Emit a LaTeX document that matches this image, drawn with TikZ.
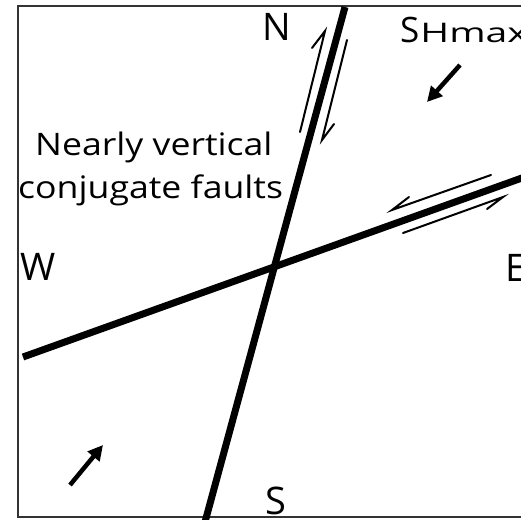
\documentclass[tikz,border=0pt]{standalone}
\usepackage{fontspec}
\setmainfont{Open Sans}
\usetikzlibrary{arrows.meta}
\begin{document}
\begin{tikzpicture}[x=1pt,y=-1pt,
  fault/.style={line width=7pt,line cap=butt},
  sense/.style={line width=2pt,line join=miter,line cap=round},
  stress/.style={line width=4.5pt,-{Triangle[length=15pt,width=15pt]}},
  lbl/.style={inner sep=0pt,anchor=base west,font=\fontsize{38}{38}\selectfont},
  txt/.style={inner sep=0pt,anchor=base west,font=\fontsize{31}{31}\selectfont}]
\useasboundingbox (0,0) rectangle (521,519);
\clip (0,0) rectangle (521,519);
\fill[white] (0,0) rectangle (521,519);
\draw[line width=2pt,black!80] (17.5,6) rectangle (540,517);
% faults
\coordinate (nTop) at (345,7);
\coordinate (sBot) at (205,522);
\coordinate (wEnd) at (23,357);
\coordinate (eEnd) at (540,171.5);
\draw[fault] (nTop) -- (sBot);
\draw[fault] (wEnd) -- (eEnd);
% shear sense on N-S fault
\coordinate (a1) at (300,132); \coordinate (a2) at (325,31); \coordinate (a3) at (312,48);
\coordinate (b1) at (347,40); \coordinate (b2) at (322,140); \coordinate (b3) at (334,124);
\draw[sense] (a1) -- (a2) -- (a3);
\draw[sense] (b1) -- (b2) -- (b3);
% shear sense on W-E fault
\coordinate (c1) at (491,175); \coordinate (c2) at (392,210); \coordinate (c3) at (409,197);
\coordinate (d1) at (403,233); \coordinate (d2) at (503,197); \coordinate (d3) at (487,209);
\draw[sense] (c1) -- (c2) -- (c3);
\draw[sense] (d1) -- (d2) -- (d3);
% stress arrows
\coordinate (t1) at (460,65); \coordinate (h1) at (427,102);
\coordinate (t2) at (70,485); \coordinate (h2) at (103,445);
\draw[stress] (t1) -- (h1);
\draw[stress] (t2) -- (h2);
% labels
\node[lbl] (N) at (262,41) {N};
\node[lbl] (S) at (265,514) {S};
\node[lbl] (W) at (20,280) {W};
\node[lbl] (E) at (505,281) {E};
\node[inner sep=0pt,anchor=base west] (SH) at (400,43) {\fontsize{35}{35}\selectfont S\hspace{1pt}\scalebox{1.45}[1]{\fontsize{27}{27}\selectfont Hmax}};
\node[txt] (t1a) at (35,155) {\scalebox{1.15}[1]{Nearly vertical}};
\node[txt] (t1b) at (18,198) {\scalebox{1.15}[1]{conjugate faults}};
\end{tikzpicture}
\end{document}
